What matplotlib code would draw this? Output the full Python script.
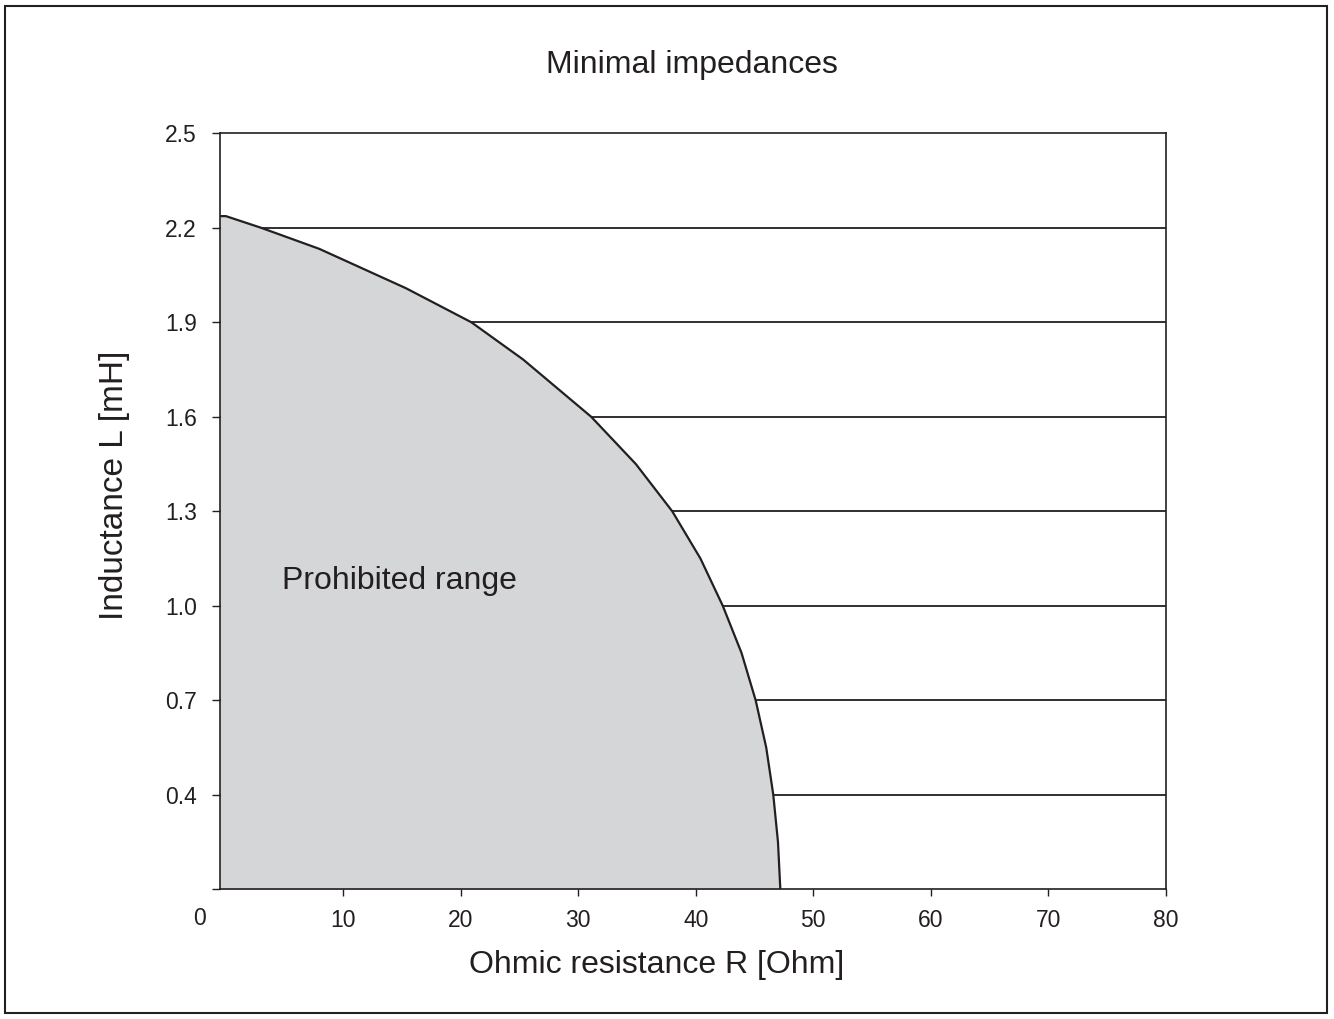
import numpy as np
import matplotlib
matplotlib.use("Agg")
import matplotlib.pyplot as plt
from matplotlib.patches import Rectangle

plt.rcParams['font.family'] = ['Liberation Sans', 'DejaVu Sans']

# Boundary of the prohibited range
resistance = [0.0, 3.0, 7.96, 15.34, 20.9, 25.3, 31.1, 34.9, 38.0, 40.4, 42.3, 43.9, 45.1, 46.0, 46.6, 47.0, 47.2]
inductance = [2.237, 2.2, 2.133, 2.008, 1.9, 1.782, 1.6, 1.45, 1.3, 1.15, 1.0, 0.85, 0.7, 0.55, 0.4, 0.25, 0.1]

y_ticks = [0.1, 0.4, 0.7, 1.0, 1.3, 1.6, 1.9, 2.2, 2.5]
y_labels = ['', '0.4', '0.7', '1.0', '1.3', '1.6', '1.9', '2.2', '2.5']
x_ticks = [10, 20, 30, 40, 50, 60, 70, 80]

ink = '#231f20'
fill_col = '#d5d6d8'

fig = plt.figure(figsize=(13.34, 10.19), dpi=100)
ax = fig.add_axes([0.1649, 0.1273, 0.7089, 0.7419])

x_left = -0.5
ax.set_xlim(x_left, 80)
ax.set_ylim(0.1, 2.5)

# horizontal grid first, the shaded region covers it
for yv in y_ticks[1:-1]:
    ax.axhline(yv, color=ink, lw=1.3, zorder=0.5)

rx = [x_left] + resistance
ly = [inductance[0]] + inductance
ax.fill_betweenx(ly, x_left, rx, color=fill_col, lw=0, zorder=1)
ax.plot(rx, ly, color=ink, lw=1.6, zorder=2)

ax.set_yticks(y_ticks)
ax.set_yticklabels(y_labels)
ax.set_xticks(x_ticks)
ax.tick_params(axis='y', direction='out', length=5.8, width=1.0, pad=11, labelsize=16.5, colors=ink)
ax.tick_params(axis='x', direction='out', length=5, width=1.0, pad=9, labelsize=16.5, colors=ink)
for sp in ax.spines.values():
    sp.set_color(ink)
    sp.set_linewidth(1.2)

# the "0" label sits left of the axis origin
ax.annotate('0', xy=(0, 0), xycoords='axes fraction', xytext=(-15, -21),
            textcoords='offset points', ha='center', va='center', fontsize=16.5, color=ink)

ax.text(4.8, 1.08, 'Prohibited range', ha='left', va='center', fontsize=23, color=ink, zorder=3)

fig.text(0.519, 0.936, 'Minimal impedances', ha='center', va='center', fontsize=23, color=ink)
fig.text(0.4925, 0.053, 'Ohmic resistance R [Ohm]', ha='center', va='center', fontsize=23, color=ink)
fig.text(0.0855, 0.524, 'Inductance L [mH]', ha='center', va='center', rotation=90, fontsize=24, color=ink)

# outer frame around the whole figure
fig.patches.append(Rectangle((0.0035, 0.006), 0.9915, 0.988, transform=fig.transFigure,
                             fill=False, edgecolor=ink, lw=1.5))

fig.savefig('out.png', dpi=100)
